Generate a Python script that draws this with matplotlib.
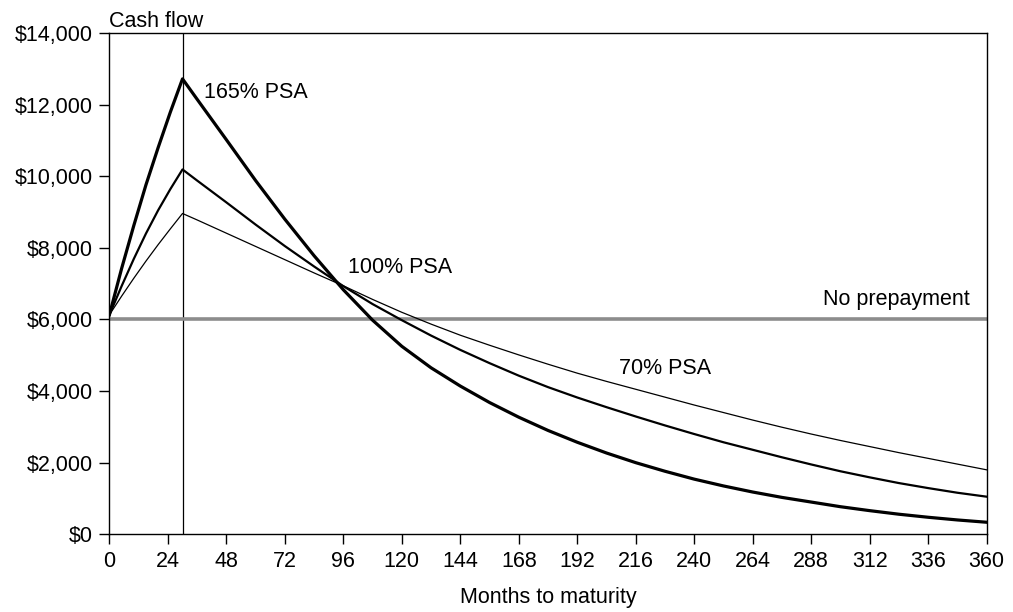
import matplotlib
matplotlib.use("Agg")
import matplotlib.pyplot as plt
from matplotlib.ticker import FuncFormatter

plt.rcParams['font.family'] = ['Liberation Sans', 'DejaVu Sans']

# months to maturity and cash flow
months = [0, 5, 10, 15, 20, 25, 30, 36, 48, 60, 72, 84, 96, 108, 120, 132, 144, 156, 168,
          180, 192, 204, 216, 228, 240, 252, 264, 276, 288, 300, 312, 324, 336, 348, 360]
psa_165 = [6130, 7420, 8620, 9760, 10800, 11790, 12720, 12150, 11020, 9880, 8800, 7780,
           6830, 5980, 5250, 4650, 4140, 3680, 3270, 2900, 2570, 2270, 2000, 1760, 1540,
           1350, 1180, 1030, 900, 770, 660, 560, 475, 400, 336]
psa_100 = [6130, 6930, 7690, 8400, 9050, 9640, 10190, 9880, 9270, 8650, 8050, 7480,
           6930, 6430, 5980, 5550, 5150, 4780, 4430, 4110, 3820, 3550, 3290, 3040, 2800,
           2570, 2360, 2150, 1950, 1760, 1590, 1430, 1290, 1160, 1050]
psa_70 = [6130, 6650, 7150, 7630, 8090, 8530, 8960, 8780, 8410, 8040, 7670, 7300,
          6940, 6560, 6200, 5870, 5560, 5280, 5010, 4750, 4500, 4270, 4050, 3830, 3610,
          3400, 3190, 2990, 2800, 2620, 2450, 2280, 2120, 1960, 1800]
no_prepay_months = [0, 360]
no_prepay = [6000, 6000]
ramp_end = 30

fig = plt.figure(figsize=(10.13, 6.12), dpi=100)
ax = fig.add_axes([0.108, 0.127, 0.866, 0.819])

ax.plot(no_prepay_months, no_prepay, color='#8c8c8c', lw=2.6, zorder=2)
ax.axvline(ramp_end, color='black', lw=0.9, zorder=1)
ax.plot(months, psa_70, color='black', lw=0.9, zorder=3)
ax.plot(months, psa_100, color='black', lw=1.6, zorder=3)
ax.plot(months, psa_165, color='black', lw=2.3, zorder=3, solid_joinstyle='round')

fs = 15.5
ax.text(39, 12350, '165% PSA', fontsize=fs, va='center', ha='left')
ax.text(98, 7440, '100% PSA', fontsize=fs, va='center', ha='left')
ax.text(293, 6550, 'No prepayment', fontsize=fs, va='center', ha='left')
ax.text(209, 4620, '70% PSA', fontsize=fs, va='center', ha='left')

ax.set_xlim(0, 360)
ax.set_ylim(0, 14000)
ax.set_xticks(range(0, 361, 24))
ax.set_yticks(range(0, 14001, 2000))
ax.yaxis.set_major_formatter(FuncFormatter(lambda v, p: '${:,.0f}'.format(v)))
ax.tick_params(axis='both', direction='out', length=7, width=1, labelsize=fs, pad=5)
for s in ax.spines.values():
    s.set_linewidth(1.0)

ax.set_xlabel('Months to maturity', fontsize=fs, labelpad=11)
ax.text(0, 1.003, 'Cash flow', transform=ax.transAxes, fontsize=fs, ha='left', va='bottom')

fig.savefig('out.png', dpi=100)
